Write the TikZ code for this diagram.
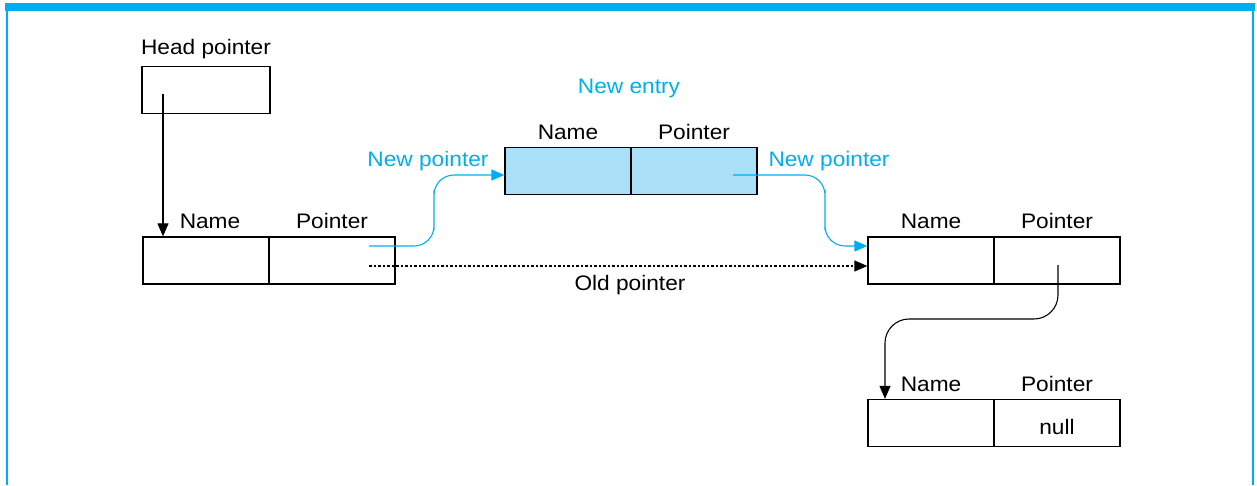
\documentclass[tikz,border=0pt]{standalone}
\usepackage{fontspec}
\setmainfont{Liberation Sans}[FakeStretch=1.08]
\usetikzlibrary{positioning,arrows.meta}
\definecolor{colorptr}{HTML}{00AEEF}
\definecolor{colorfill}{HTML}{AADFF8}

\tikzset{
  cell/.style={draw, line width=1.3pt, minimum width=126pt, minimum height=47pt, inner sep=0pt},
  lbl/.style={font=\fontsize{21}{24}\selectfont, inner sep=0pt},
  arr/.style={line width=1.1pt, -{Triangle[length=13pt,width=11pt]}},
  newptr/.style={arr, colorptr, rounded corners=20pt},
}

\begin{document}
\begin{tikzpicture}[x=1pt,y=-1pt]
    \useasboundingbox (0,0) rectangle (1257,485);
    % frame
    \fill[colorptr] (5,3) rectangle (1255,10.5);
    \draw[colorptr, line width=2pt] (6.5,10) -- (6.5,485);
    \draw[colorptr, line width=2pt] (1253,10) -- (1253,485);

    % head pointer
    \node[cell, minimum width=128pt] (head) at (206,90) {};
    \node[lbl, above=7pt of head] (headlbl) {Head pointer};

    % first entry
    \node[cell] (aname) at (206,260.5) {};
    \node[cell, right=-1.3pt of aname] (aptr) {};
    \node[lbl, above=7pt of aname, xshift=4pt] (anamelbl) {Name};
    \node[lbl, above=7pt of aptr] (aptrlbl) {Pointer};

    % new entry
    \node[cell, fill=colorfill] (ename) at (568,171) {};
    \node[cell, fill=colorfill, right=-1.3pt of ename] (eptr) {};
    \node[lbl, above=7pt of ename] (enamelbl) {Name};
    \node[lbl, above=7pt of eptr] (eptrlbl) {Pointer};
    \node[lbl, colorptr] (entrylbl) at (629,88) {New entry};

    % second entry
    \node[cell] (bname) at (931,260.5) {};
    \node[cell, right=-1.3pt of bname] (bptr) {};
    \node[lbl, above=7pt of bname] (bnamelbl) {Name};
    \node[lbl, above=7pt of bptr] (bptrlbl) {Pointer};

    % last entry
    \node[cell] (cname) at (931,423) {};
    \node[cell, right=-1.3pt of cname] (cptr) {};
    \node[lbl, above=7pt of cname] (cnamelbl) {Name};
    \node[lbl, above=7pt of cptr] (cptrlbl) {Pointer};
    \node[lbl] (null) at (cptr) [yshift=-4pt] {null};

    % pointers
    \coordinate (headdot) at (163,94);
    \draw[arr] (headdot) -- (headdot |- aname.north);

    \coordinate (anew) at (369,246);
    \coordinate (aold) at (369,266);
    \coordinate (amid) at (434,210);
    \draw[newptr] (anew) -| (amid) |- ([yshift=-4pt]ename.west);
    \node[lbl, colorptr] (newlbla) at (428,161) {New pointer};

    \coordinate (enew) at (733,175);
    \coordinate (emid) at (825,210);
    \draw[newptr] (enew) -| (emid) |- ([yshift=14.5pt]bname.west);
    \node[lbl, colorptr] (newlblb) at (829,161) {New pointer};

    \draw[arr, dash pattern=on 2.5pt off 2pt] (aold) -- ([yshift=-5.5pt]bname.west);
    \node[lbl] (oldlbl) at (630,285) {Old pointer};

    \coordinate (bdot) at (1058,265);
    \coordinate (bend) at (885,319);
    \draw[arr, rounded corners=24pt] (bdot) |- (bend) -- (bend |- cname.north);
\end{tikzpicture}
\end{document}
